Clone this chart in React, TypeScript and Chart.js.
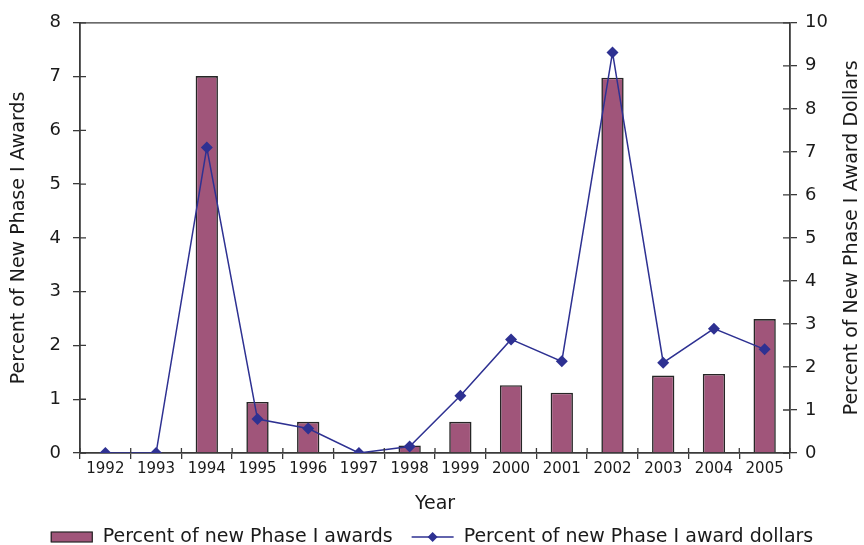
import React, { useEffect, useRef } from "react";
import { Chart, registerables } from "chart.js";

Chart.register(...registerables);

const years = ["1992", "1993", "1994", "1995", "1996", "1997", "1998", "1999", "2000", "2001", "2002", "2003", "2004", "2005"];
const awardsPct = [0, 0, 7.01, 0.95, 0.58, 0, 0.14, 0.58, 1.26, 1.12, 6.98, 1.44, 1.47, 2.49];
const dollarsPct = [0, 0, 7.1, 0.79, 0.57, 0, 0.15, 1.33, 2.64, 2.13, 9.31, 2.1, 2.89, 2.41];
const leftTicks = [0, 8, 1];
const rightTicks = [0, 10, 1];
const barLabel = "Percent of new Phase I awards";
const lineLabel = "Percent of new Phase I award dollars";
const leftTitle = "Percent of New Phase I Awards";
const rightTitle = "Percent of New Phase I Award Dollars";
const xTitle = "Year";

const BAR_COLOR = "#A0557A";
const BAR_BORDER = "#262626";
const LINE_COLOR = "#2E3192";
const AXIS_COLOR = "#3A3A3A";
const TEXT_COLOR = "#1A1A1A";
const FONT = "'DejaVu Sans', 'Liberation Sans', Arial, sans-serif";

const framePlugin = {
  id: "frame",
  afterDatasetsDraw(chart: any) {
    const { ctx, chartArea, scales } = chart;
    ctx.save();
    ctx.strokeStyle = AXIS_COLOR;
    ctx.lineWidth = 1.3;
    ctx.beginPath();
    ctx.moveTo(chartArea.left, chartArea.top);
    ctx.lineTo(chartArea.right, chartArea.top);
    ctx.stroke();
    const y = scales.y;
    const y1 = scales.y1;
    const x = scales.x;
    ctx.beginPath();
    y.ticks.forEach((_t: any, i: number) => {
      const py = y.getPixelForTick(i);
      ctx.moveTo(chartArea.left, py);
      ctx.lineTo(chartArea.left + 6, py);
    });
    y1.ticks.forEach((_t: any, i: number) => {
      const py = y1.getPixelForTick(i);
      ctx.moveTo(chartArea.right, py);
      ctx.lineTo(chartArea.right - 7, py);
    });
    const half = (x.getPixelForValue(1) - x.getPixelForValue(0)) / 2;
    for (let i = 0; i <= years.length; i++) {
      const px = x.getPixelForValue(i) - half;
      ctx.moveTo(px, chartArea.bottom);
      ctx.lineTo(px, chartArea.bottom - 5);
    }
    ctx.stroke();
    ctx.restore();
  },
  afterDraw(chart: any) {
    const { ctx, chartArea, height } = chart;
    ctx.save();
    ctx.fillStyle = TEXT_COLOR;
    ctx.font = `19px ${FONT}`;
    ctx.textAlign = "center";
    ctx.textBaseline = "middle";
    ctx.translate(chartArea.right + 62, (chartArea.top + chartArea.bottom) / 2);
    ctx.rotate(-Math.PI / 2);
    ctx.fillText(rightTitle, 0, 0);
    ctx.restore();

    ctx.save();
    ctx.font = `19px ${FONT}`;
    ctx.textBaseline = "middle";
    ctx.textAlign = "left";
    const iconW = 42;
    const gapIconText = 10;
    const gapItems = 19;
    const w1 = ctx.measureText(barLabel).width;
    const w2 = ctx.measureText(lineLabel).width;
    const total = iconW + gapIconText + w1 + gapItems + iconW + gapIconText + w2;
    let x = (chartArea.left + chartArea.right) / 2 - total / 2 - 3;
    const cy = height - 8;
    ctx.fillStyle = BAR_COLOR;
    ctx.fillRect(x, cy - 5, iconW, 10);
    ctx.strokeStyle = BAR_BORDER;
    ctx.lineWidth = 1.2;
    ctx.strokeRect(x + 0.5, cy - 5, iconW - 1, 10);
    x += iconW + gapIconText;
    ctx.fillStyle = TEXT_COLOR;
    ctx.fillText(barLabel, x, cy);
    x += w1 + gapItems;
    ctx.strokeStyle = LINE_COLOR;
    ctx.lineWidth = 1.5;
    ctx.beginPath();
    ctx.moveTo(x, cy);
    ctx.lineTo(x + iconW, cy);
    ctx.stroke();
    ctx.fillStyle = LINE_COLOR;
    const cx = x + iconW / 2;
    ctx.beginPath();
    ctx.moveTo(cx, cy - 5);
    ctx.lineTo(cx + 5, cy);
    ctx.lineTo(cx, cy + 5);
    ctx.lineTo(cx - 5, cy);
    ctx.closePath();
    ctx.fill();
    x += iconW + gapIconText;
    ctx.fillStyle = TEXT_COLOR;
    ctx.fillText(lineLabel, x, cy);
    ctx.restore();
  },
};

export default function App() {
  const ref = useRef<HTMLCanvasElement | null>(null);

  useEffect(() => {
    document.body.style.margin = "0";
    const canvas = ref.current!;
    const chart = new Chart(canvas, {
      type: "bar",
      data: {
        labels: years,
        datasets: [
          {
            type: "line",
            label: lineLabel,
            data: dollarsPct,
            yAxisID: "y1",
            borderColor: LINE_COLOR,
            backgroundColor: LINE_COLOR,
            borderWidth: 1.5,
            pointStyle: "rectRot",
            pointRadius: 6,
            pointBorderWidth: 0,
            pointBackgroundColor: LINE_COLOR,
            tension: 0,
            order: 0,
          } as any,
          {
            type: "bar",
            label: barLabel,
            data: awardsPct,
            yAxisID: "y",
            backgroundColor: BAR_COLOR,
            borderColor: BAR_BORDER,
            borderWidth: 1.6,
            barPercentage: 0.44,
            categoryPercentage: 1,
            order: 1,
          } as any,
        ],
      },
      options: {
        responsive: false,
        animation: false,
        layout: { padding: { top: 22, left: 0, right: 0, bottom: 30 } },
        plugins: {
          tooltip: { enabled: false },
          legend: { display: false },
        },
        scales: {
          x: {
            offset: true,
            grid: { display: true, drawOnChartArea: false, drawTicks: true, tickLength: 6, color: AXIS_COLOR, lineWidth: 1.3, offset: true },
            border: { display: true, color: AXIS_COLOR, width: 1.8 },
            ticks: { color: TEXT_COLOR, font: { family: FONT, size: 15 }, padding: 1, maxRotation: 0, autoSkip: false },
            title: { display: true, text: xTitle, color: TEXT_COLOR, font: { family: FONT, size: 19 }, padding: { top: 0, bottom: 0 } },
            afterFit: (s: any) => { s.height = 62; },
          },
          y: {
            position: "left",
            min: leftTicks[0],
            max: leftTicks[1],
            grid: { display: true, drawOnChartArea: false, drawTicks: true, tickLength: 7, color: AXIS_COLOR, lineWidth: 1.3 },
            border: { display: true, color: AXIS_COLOR, width: 1.8 },
            ticks: { stepSize: leftTicks[2], color: TEXT_COLOR, font: { family: FONT, size: 18 }, padding: 12 },
            title: { display: true, text: leftTitle, color: TEXT_COLOR, font: { family: FONT, size: 19 }, padding: { top: 8, bottom: 0 } },
            afterFit: (s: any) => { s.width = 80; },
          },
          y1: {
            position: "right",
            min: rightTicks[0],
            max: rightTicks[1],
            grid: { display: true, drawOnChartArea: false, drawTicks: true, tickLength: 7, color: AXIS_COLOR, lineWidth: 1.3 },
            border: { display: true, color: AXIS_COLOR, width: 1.8 },
            ticks: { stepSize: rightTicks[2], color: TEXT_COLOR, font: { family: FONT, size: 18 }, padding: 8 },
            title: { display: false },
            afterFit: (s: any) => { s.width = 74; },
          },
        },
      },
      plugins: [framePlugin],
    });
    return () => chart.destroy();
  }, []);

  return (
    <div style={{ width: 864, height: 545 }}>
      <canvas ref={ref} width={864} height={545} style={{ display: "block" }} />
    </div>
  );
}
